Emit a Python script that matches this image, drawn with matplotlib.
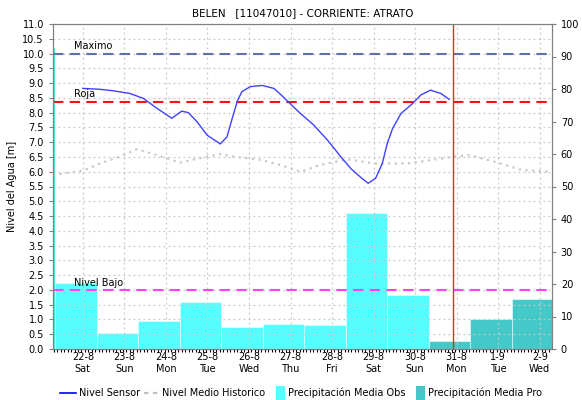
import numpy as np
import matplotlib.pyplot as plt
from matplotlib.lines import Line2D
from matplotlib.patches import Patch, Rectangle
from matplotlib.legend_handler import HandlerPatch

# dias desde 22-8 00:00
tick_days = list(range(12))
tick_labels = ["22-8\nSat", "23-8\nSun", "24-8\nMon", "25-8\nTue", "26-8\nWed", "27-8\nThu",
               "28-8\nFri", "29-8\nSat", "30-8\nSun", "31-8\nMon", "1-9\nTue", "2-9\nWed"]

sensor_t = [0.0, 0.41, 0.73, 1.13, 1.46, 1.78, 2.14, 2.38, 2.54, 2.75, 2.99, 3.31, 3.47,
            3.63, 3.73, 3.83, 4.03, 4.32, 4.60, 4.76, 4.92, 5.24, 5.56, 5.89, 6.21, 6.45,
            6.69, 6.87, 7.05, 7.21, 7.33, 7.46, 7.66, 7.94, 8.14, 8.37, 8.62, 8.82]
sensor_v = [8.82, 8.79, 8.74, 8.65, 8.48, 8.15, 7.81, 8.05, 8.00, 7.69, 7.24, 6.94, 7.18,
            7.97, 8.43, 8.71, 8.88, 8.92, 8.82, 8.62, 8.40, 7.97, 7.58, 7.07, 6.51, 6.11,
            5.81, 5.61, 5.78, 6.28, 6.96, 7.47, 7.97, 8.31, 8.60, 8.76, 8.65, 8.45]

hist_t = [-0.72, 0.0, 0.41, 0.89, 1.30, 1.70, 2.34, 2.99, 3.31, 3.63, 4.28, 4.76, 5.24,
          5.72, 6.37, 7.01, 7.82, 8.94, 9.31, 9.91, 10.56, 11.28]
hist_v = [5.89, 6.03, 6.28, 6.51, 6.76, 6.60, 6.31, 6.51, 6.60, 6.51, 6.40, 6.23, 6.00,
          6.23, 6.42, 6.28, 6.28, 6.51, 6.56, 6.34, 6.06, 6.00]

# precipitacion diaria [mm]
obs_days = [0, 1, 2, 3, 4, 5, 6, 7, 8]
obs_mm = [20.2, 5.0, 8.7, 14.6, 6.9, 7.7, 7.4, 41.9, 16.6]
pro_days = [9, 10, 11]
pro_mm = [2.6, 9.1, 15.3]

nivel_max = 10.0
nivel_roja = 8.37
nivel_bajo = 2.0
corte = 8.92

plt.rcParams['font.family'] = 'DejaVu Sans'
plt.rcParams['font.size'] = 7

fig = plt.figure(figsize=(5.82, 4.0), dpi=100)
ax = fig.add_axes([0.091, 0.1275, 0.857, 0.8125])
ax2 = ax.twinx()

# barras de precipitacion en eje derecho, detras
ax2.set_zorder(0)
ax.set_zorder(1)
ax.patch.set_visible(False)

ax2.bar(np.array(obs_days) - 0.17, obs_mm, width=1.0, color='#55ffff', edgecolor='#f0ffff', linewidth=0.4)
ax2.bar(np.array(pro_days) - 0.17, pro_mm, width=1.0, color='#44c8c8', edgecolor='#f0ffff', linewidth=0.4)
ax2.set_ylim(0, 100)
ax2.set_yticks(np.arange(0, 101, 10))
ax2.set_ylabel("Precipitación [mm]", rotation=270, labelpad=14)

xmin, xmax = -0.72, 11.29
ax.set_xlim(xmin, xmax)
ax.set_ylim(0, 11)
ax.set_yticks(np.arange(0, 11.01, 0.5))
ax.set_yticklabels([f"{v:.1f}" for v in np.arange(0, 11.01, 0.5)])
ax.set_xticks(tick_days)
ax.set_xticklabels(tick_labels)
ax.set_xticks(np.arange(-0.70, 11.29, 1 / 12), minor=True)
ax.tick_params(axis='x', which='minor', length=2, width=0.8, color='black')
ax.set_ylabel("Nivel del Agua [m]")

ax.grid(True, which='major', color='#c8c8c8', linestyle=(0, (1.5, 2.5)), linewidth=0.9)

ax.axvline(xmin + 0.01, ymin=0, ymax=10.15 / 11, color='#40e0f0', linewidth=2)

ax.axhline(nivel_max, color='#6070a8', linestyle=(0, (5, 3)), linewidth=1.5)
ax.axhline(nivel_roja, color='#ff1010', linestyle=(0, (5, 3)), linewidth=1.5)
ax.axhline(nivel_bajo, color='#ff40ff', linestyle=(0, (5, 3)), linewidth=1.5)
ax.text(-0.22, nivel_max + 0.08, "Maximo", fontsize=7, va='bottom')
ax.text(-0.22, nivel_roja + 0.08, "Roja", fontsize=7, va='bottom')
ax.text(-0.22, nivel_bajo + 0.08, "Nivel Bajo", fontsize=7, va='bottom')

ax.plot(hist_t, hist_v, color='#c8c8c8', linestyle=(0, (1, 2)), linewidth=1.6)
ax.plot(sensor_t, sensor_v, color='#4040ff', linewidth=1.0)

ax.axvline(corte, color='#ff2020', linewidth=1)

for a in (ax, ax2):
    for s in a.spines.values():
        s.set_color('#808080')
ax.tick_params(axis='y', color='#808080', length=3)
ax2.tick_params(axis='y', color='#808080', length=3)
ax.tick_params(axis='x', which='major', length=0, pad=2.5)

ax.set_title("BELEN   [11047010] - CORRIENTE: ATRATO", fontsize=7.5, pad=6)


def narrow_box(legend, orig_handle, xdescent, ydescent, width, height, fontsize):
    return Rectangle((-xdescent + width - 6, -ydescent - 2.5), 6, height + 5)


handles = [
    Line2D([], [], color='#0000ff', linewidth=1.2),
    Line2D([], [], color='#c0c0c0', linestyle=(0, (2, 2)), linewidth=1.6),
    Patch(facecolor='#55ffff'),
    Patch(facecolor='#44c8c8'),
]
labels = ["Nivel Sensor", "Nivel Medio Historico", "Precipitación Media Obs", "Precipitación Media Pro"]
hmap = {handles[2]: HandlerPatch(patch_func=narrow_box), handles[3]: HandlerPatch(patch_func=narrow_box)}
fig.legend(handles, labels, loc='center', bbox_to_anchor=(0.517, 0.017), ncol=4, frameon=False,
           fontsize=7, handlelength=1.6, columnspacing=0.4, handletextpad=0.3, handler_map=hmap)

fig.savefig("out.png", dpi=100)
